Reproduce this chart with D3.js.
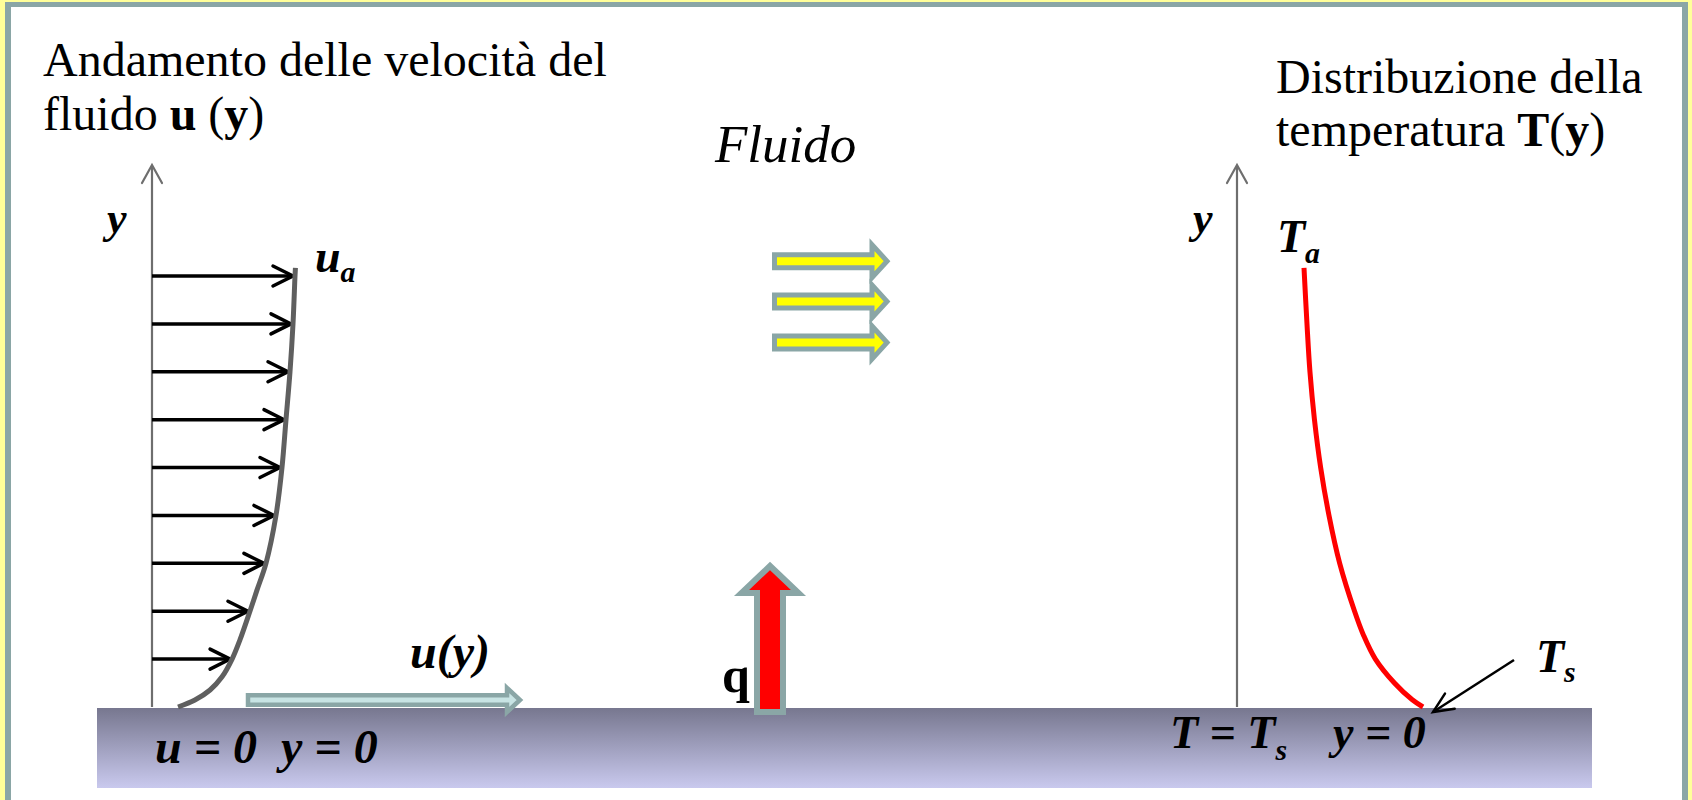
<!DOCTYPE html>
<html>
<head>
<meta charset="utf-8">
<script src="https://cdn.jsdelivr.net/npm/d3@7"></script>
<style>
  html, body { margin: 0; padding: 0; background: #fff; }
  svg { display: block; }
  text { font-family: "Liberation Serif", "Times New Roman", serif; fill: #000; white-space: pre; }
</style>
</head>
<body>
<div id="chart"></div>
<script>
// velocity profile u(y): heights (in arrow spacing units) and u / u_a
const velY = [0, 0.146, 0.355, 0.63, 1, 1.4, 2, 2.44, 3, 4, 5, 6, 7, 8, 9, 9.17];
const velU = [0.182, 0.30, 0.406, 0.49, 0.56, 0.615, 0.685, 0.734, 0.797, 0.867, 0.909, 0.937, 0.965, 0.986, 1.0, 1.003];
// heights of the drawn velocity arrows
const arrowLevels = [1, 2, 3, 4, 5, 6, 7, 8, 9];

// temperature profile: heights and (T - Ta) / (Ts - Ta)
const tempY = [9.17, 8, 7, 6, 5, 4, 3, 2, 1.5, 1, 0.5, 0.15, 0];
const tempTheta = [0, 0.025, 0.05, 0.088, 0.14, 0.21, 0.3, 0.425, 0.5, 0.6, 0.76, 0.91, 1.0];

// fluid flow arrows (heights)
const flowLevels = [9.31, 8.47, 7.61];

const W = 1692, H = 800;

const svg = d3.select('#chart').append('svg')
  .attr('width', W)
  .attr('height', H);

const defs = svg.append('defs');
const grad = defs.append('linearGradient')
  .attr('id', 'plate')
  .attr('x1', 0).attr('y1', 0).attr('x2', 0).attr('y2', 1);
grad.append('stop').attr('offset', '0%').attr('stop-color', '#77778f');
grad.append('stop').attr('offset', '100%').attr('stop-color', '#c9c9ee');

// frame
svg.append('rect').attr('width', W).attr('height', H).attr('fill', '#ffff99');
svg.append('rect').attr('x', 5).attr('y', 2).attr('width', 1683).attr('height', 820).attr('fill', '#8aa6a6');
svg.append('rect').attr('x', 11).attr('y', 7).attr('width', 1671).attr('height', 820).attr('fill', '#fff');

// scales
const yLevel = d3.scaleLinear().domain([0, 9]).range([707, 276]);
const uScale = d3.scaleLinear().domain([0, 1]).range([152, 295]);
const tScale = d3.scaleLinear().domain([0, 1]).range([1304, 1423]);

// plate
svg.append('rect')
  .attr('x', 97).attr('y', yLevel(0) + 1)
  .attr('width', 1495).attr('height', 80)
  .attr('fill', 'url(#plate)');

function openHead(g, tipX, tipY, angle, len, half, color, sw) {
  const ca = Math.cos(angle), sa = Math.sin(angle);
  const p = (dx, dy) => [tipX + dx * ca - dy * sa, tipY + dx * sa + dy * ca];
  const a = p(-len, -half), b = p(-len, half);
  g.append('path')
    .attr('d', `M${a[0]},${a[1]}L${tipX},${tipY}L${b[0]},${b[1]}`)
    .attr('fill', 'none')
    .attr('stroke', color)
    .attr('stroke-width', sw)
    .attr('stroke-linecap', 'round')
    .attr('stroke-linejoin', 'miter');
}

// y axes
function yAxis(x) {
  const g = svg.append('g');
  g.append('line')
    .attr('x1', x).attr('x2', x)
    .attr('y1', yLevel(0)).attr('y2', 166)
    .attr('stroke', '#6e6e6e').attr('stroke-width', 2.2);
  openHead(g, x, 165, -Math.PI / 2, 18, 10, '#6e6e6e', 2.2);
}
yAxis(uScale(0));
yAxis(1237);

// velocity arrows
const vel = velY.map((y, i) => ({ y, u: velU[i] }));
const uAt = lv => vel.find(d => d.y === lv).u;
const gArr = svg.append('g');
arrowLevels.forEach(lv => {
  const tip = uScale(uAt(lv)) - 2;
  gArr.append('line')
    .attr('x1', uScale(0)).attr('x2', tip - 2)
    .attr('y1', yLevel(lv)).attr('y2', yLevel(lv))
    .attr('stroke', '#000').attr('stroke-width', 3.5);
  openHead(gArr, tip, yLevel(lv), 0, 20, 10, '#000', 3.5);
});

// velocity profile curve
svg.append('path')
  .datum(vel)
  .attr('fill', 'none')
  .attr('stroke', '#5f5f5f')
  .attr('stroke-width', 5)
  .attr('d', d3.line().x(d => uScale(d.u)).y(d => yLevel(d.y)).curve(d3.curveCatmullRom.alpha(0.5)));

// temperature profile curve
const temp = tempY.map((y, i) => ({ y, t: tempTheta[i] }));
svg.append('path')
  .datum(temp)
  .attr('fill', 'none')
  .attr('stroke', '#ff0000')
  .attr('stroke-width', 5)
  .attr('d', d3.line().x(d => tScale(d.t)).y(d => yLevel(d.y)).curve(d3.curveCatmullRom.alpha(0.5)));

// block arrows
function hArrow(x0, x1, cy, bh, hh, hl) {
  const xh = x1 - hl;
  return `M${x0},${cy - bh}L${xh},${cy - bh}L${xh},${cy - hh}L${x1},${cy}L${xh},${cy + hh}L${xh},${cy + bh}L${x0},${cy + bh}Z`;
}
function vArrow(cx, y0, y1, bh, hh, hl) {
  const yh = y1 + hl;
  return `M${cx - bh},${y0}L${cx - bh},${yh}L${cx - hh},${yh}L${cx},${y1}L${cx + hh},${yh}L${cx + bh},${yh}L${cx + bh},${y0}Z`;
}

// u(y) arrow along the wall
svg.append('path')
  .attr('d', hArrow(248, 520, yLevel(0) - 7, 4.75, 12, 13))
  .attr('fill', '#c8e4e4')
  .attr('stroke', '#8aa6a6')
  .attr('stroke-width', 4.5);

// flow arrows
flowLevels.forEach(lv => {
  svg.append('path')
    .attr('d', hArrow(774.5, 887, yLevel(lv), 6.5, 16.5, 15))
    .attr('fill', '#ffff00')
    .attr('stroke', '#8aa6a6')
    .attr('stroke-width', 5);
});

// heat flux q
svg.append('path')
  .attr('d', vArrow(770, 712, 566, 13, 28.5, 27))
  .attr('fill', '#ff0000')
  .attr('stroke', '#8aa6a6')
  .attr('stroke-width', 6);

// pointer to Ts
const gp = svg.append('g');
const pEnd = [tScale(1) + 10, yLevel(0) + 5];
gp.append('line')
  .attr('x1', 1514).attr('y1', 660)
  .attr('x2', pEnd[0]).attr('y2', pEnd[1])
  .attr('stroke', '#000').attr('stroke-width', 2.5);
openHead(gp, pEnd[0], pEnd[1], Math.atan2(pEnd[1] - 660, pEnd[0] - 1514), 20, 9, '#000', 2.5);

// texts
function txt(x, y, size, parts, extra) {
  const t = svg.append('text').attr('x', x).attr('y', y).attr('font-size', size);
  if (extra) t.attr('font-style', extra.italic ? 'italic' : null).attr('font-weight', extra.bold ? 'bold' : null);
  parts.forEach(p => {
    const s = t.append('tspan').text(p.t);
    if (p.b) s.attr('font-weight', 'bold');
    if (p.i) s.attr('font-style', 'italic');
    if (p.sub) s.attr('font-size', size * 0.65).attr('dy', p.dy);
    if (p.up) s.attr('dy', p.up);
  });
  return t;
}

txt(43, 76, 48, [{ t: 'Andamento delle velocità del' }]);
txt(43, 130, 48, [{ t: 'fluido ' }, { t: 'u', b: true }, { t: ' (' }, { t: 'y', b: true }, { t: ')' }]);

txt(1276, 93, 48, [{ t: 'Distribuzione della' }]);
txt(1276, 146, 48, [{ t: 'temperatura ' }, { t: 'T', b: true }, { t: '(' }, { t: 'y', b: true }, { t: ')' }]);

txt(715, 162, 53, [{ t: 'Fluido' }], { italic: true });

txt(107, 233, 44, [{ t: 'y' }], { italic: true, bold: true });
txt(1193, 233, 44, [{ t: 'y' }], { italic: true, bold: true });

txt(315, 272, 46, [{ t: 'u' }, { t: 'a', sub: true, dy: 10 }], { italic: true, bold: true });
txt(410, 668, 48, [{ t: 'u(y)' }], { italic: true, bold: true });
txt(155, 763, 48, [{ t: 'u = 0  y = 0' }], { italic: true, bold: true });

txt(722, 692, 50, [{ t: 'q' }], { bold: true });

txt(1277, 252, 46, [{ t: 'T' }, { t: 'a', sub: true, dy: 11 }], { italic: true, bold: true });
txt(1536, 672, 46, [{ t: 'T' }, { t: 's', sub: true, dy: 10 }], { italic: true, bold: true });
txt(1170, 748, 46, [{ t: 'T = T' }, { t: 's', sub: true, dy: 12 }, { t: '    y = 0', up: -12 }], { italic: true, bold: true });
</script>
</body>
</html>
